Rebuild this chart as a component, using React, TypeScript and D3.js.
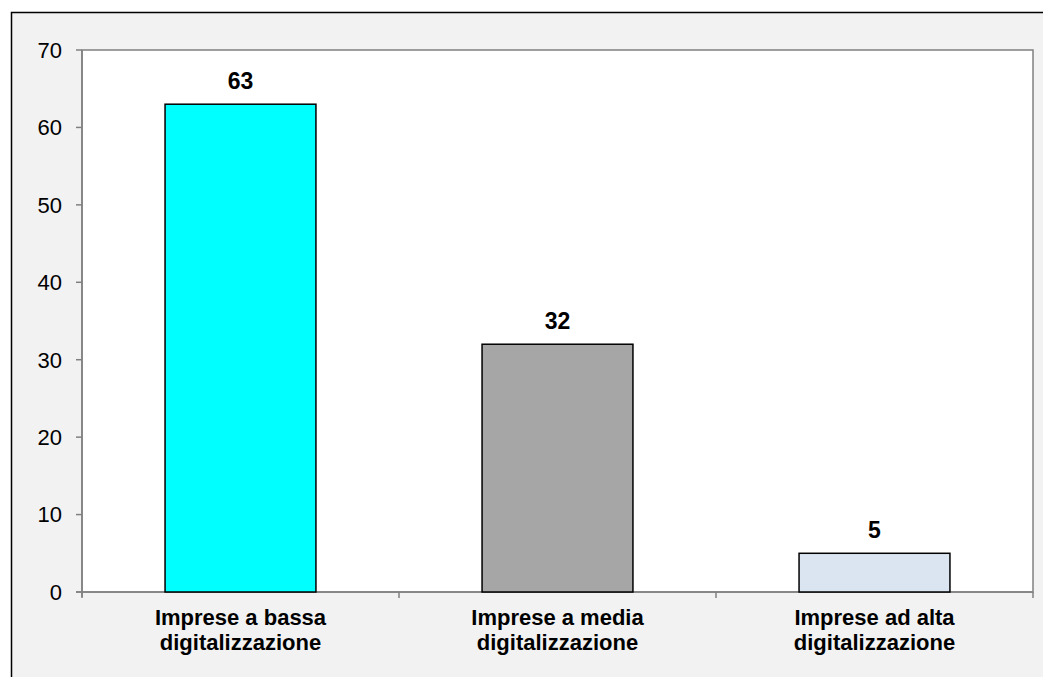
import React from "react";
import * as d3 from "d3";

const categories: string[][] = [
  ["Imprese a bassa", "digitalizzazione"],
  ["Imprese a media", "digitalizzazione"],
  ["Imprese ad alta", "digitalizzazione"],
];
const values: number[] = [63, 32, 5];
const barColors: string[] = ["#00FFFF", "#A6A6A6", "#DBE5F1"];
const yTicks: number[] = [0, 10, 20, 30, 40, 50, 60, 70];

const W = 1043;
const H = 677;
const plot = { left: 82, top: 50, right: 1033, bottom: 592 };
const font = "Arial, 'Liberation Sans', Helvetica, sans-serif";

export default function App() {
  const keys = categories.map((_, i) => String(i));
  const x = d3
    .scaleBand<string>()
    .domain(keys)
    .range([plot.left, plot.right])
    .paddingInner(0.524)
    .paddingOuter(0.262);
  const band = d3.scaleBand<string>().domain(keys).range([plot.left, plot.right]);
  const y = d3.scaleLinear().domain([0, 70]).range([plot.bottom, plot.top]);

  const bandEdges = [...keys.map((k) => band(k) as number), plot.right];

  return (
    <svg
      width={W}
      height={H}
      style={{ position: "absolute", left: 0, top: 0, display: "block", background: "#fff" }}
      fontFamily={font}
    >
      <rect x={11.5} y={12.5} width={W + 20} height={H + 20} fill="#F2F2F2" stroke="#000" strokeWidth={1.5} />
      <rect
        x={plot.left}
        y={plot.top}
        width={plot.right - plot.left}
        height={plot.bottom - plot.top}
        fill="#fff"
        stroke="#808080"
        strokeWidth={1.5}
      />
      {/* y axis */}
      <line x1={plot.left} x2={plot.left} y1={plot.top} y2={plot.bottom + 5} stroke="#808080" strokeWidth={1.5} />
      {yTicks.map((t) => (
        <g key={t}>
          <line x1={plot.left - 6} x2={plot.left} y1={y(t)} y2={y(t)} stroke="#808080" strokeWidth={1.5} />
          <text x={62} y={y(t)} dy="0.36em" textAnchor="end" fontSize={22} fill="#000">
            {t}
          </text>
        </g>
      ))}
      {/* x axis */}
      <line x1={plot.left - 6} x2={plot.right} y1={plot.bottom} y2={plot.bottom} stroke="#808080" strokeWidth={1.5} />
      {bandEdges.map((e, i) => (
        <line key={i} x1={e} x2={e} y1={plot.bottom} y2={plot.bottom + 6} stroke="#808080" strokeWidth={1.5} />
      ))}
      {/* bars */}
      {values.map((v, i) => {
        const bx = x(String(i)) as number;
        const bw = x.bandwidth();
        return (
          <g key={i}>
            <rect
              x={bx}
              y={y(v)}
              width={bw}
              height={y(0) - y(v)}
              fill={barColors[i]}
              stroke="#000"
              strokeWidth={1.5}
            />
            <text
              x={bx + bw / 2}
              y={y(v) - 15}
              textAnchor="middle"
              fontSize={23}
              fontWeight="bold"
              fill="#000"
            >
              {v}
            </text>
          </g>
        );
      })}
      {/* category labels */}
      {categories.map((lines, i) => {
        const cx = (band(String(i)) as number) + band.bandwidth() / 2;
        return (
          <text key={i} x={cx} textAnchor="middle" fontSize={22} fontWeight="bold" fill="#000">
            {lines.map((l, j) => (
              <tspan key={j} x={cx} y={625 + j * 25}>
                {l}
              </tspan>
            ))}
          </text>
        );
      })}
    </svg>
  );
}
